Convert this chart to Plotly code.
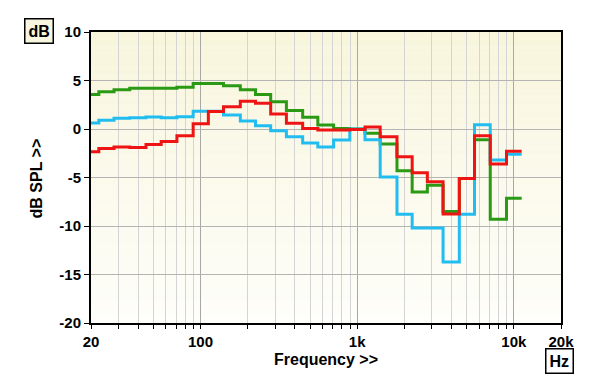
import plotly.graph_objects as go

# 1/3-octave band centre frequencies (Hz)
bands = [20, 25, 31.5, 40, 50, 63, 80, 100, 125, 160, 200, 250, 315, 400, 500,
         630, 800, 1000, 1250, 1600, 2000, 2500, 3150, 4000, 5000, 6300, 8000, 10000]

green = [3.55, 3.85, 4.05, 4.2, 4.2, 4.2, 4.3, 4.7, 4.7, 4.45, 4.05, 3.55, 2.8, 1.9, 1.2,
         0.4, 0.05, 0.0, -0.45, -1.55, -4.3, -6.5, -5.8, -8.5, -5.1, -1.1, -9.3, -7.15]
cyan = [0.62, 0.9, 1.1, 1.17, 1.25, 1.15, 1.27, 1.82, 1.82, 1.45, 0.82, 0.34, -0.18, -0.8, -1.45,
        -1.85, -1.14, 0.0, -1.1, -4.95, -8.8, -10.2, -10.2, -13.7, -8.8, 0.45, -3.2, -2.6]
red = [-2.35, -2.0, -1.85, -1.9, -1.6, -1.3, -0.7, 0.55, 1.8, 2.3, 2.85, 2.65, 1.55, 0.58, 0.05,
       -0.1, -0.1, -0.05, 0.2, -0.8, -2.85, -4.5, -5.45, -8.75, -5.1, -0.7, -3.6, -2.3]

yticks = [-20, -15, -10, -5, 0, 5, 10]
ytick_text = ["-20", "-15", "-10", "-5", "0", "5", "10"]
xmajor = [20, 100, 1000, 10000, 20000]
xmajor_text = ["20", "100", "1k", "10k", "20k"]
xminor = [30, 40, 50, 60, 70, 80, 90, 200, 300, 400, 500, 600, 700, 800, 900,
          2000, 3000, 4000, 5000, 6000, 7000, 8000, 9000]

# step x: band lower edges (first clipped to 20 Hz) + last upper edge
half = 10 ** 0.05
xs = [20] + [b * half for b in bands]

def stepy(v):
    return v + [v[-1]]

fig = go.Figure()
for vals, col in [(green, "#2a9a14"), (cyan, "#22bdf0"), (red, "#ee1414")]:
    fig.add_trace(go.Scatter(x=xs, y=stepy(vals), mode="lines", line_shape="hv",
                             line=dict(color=col, width=3), showlegend=False,
                             hoverinfo="skip"))

# background gradient
shapes = []
N = 40
top = (248, 245, 220)
bot = (254, 254, 250)
for i in range(N):
    t = (i + 0.5) / N
    c = tuple(int(round(bot[j] + (top[j] - bot[j]) * t)) for j in range(3))
    shapes.append(dict(type="rect", xref="paper", yref="paper", x0=0, x1=1,
                       y0=i / N, y1=(i + 1) / N, fillcolor="rgb(%d,%d,%d)" % c,
                       line=dict(width=0), layer="below"))

bold = dict(family="Liberation Sans, Arial, sans-serif", size=15, color="black", weight="bold")
title_font = dict(family="Liberation Sans, Arial, sans-serif", size=16, color="black", weight="bold")
boxfont = dict(family="Liberation Sans, Arial, sans-serif", size=16, color="black", weight="bold")

fig.update_layout(
    width=592, height=379,
    margin=dict(l=83, r=39, t=24, b=64),
    paper_bgcolor="white", plot_bgcolor="rgba(0,0,0,0)",
    shapes=shapes,
    font=bold,
    xaxis=dict(type="log", range=[1.30103, 4.30103], tickvals=xmajor, ticktext=xmajor_text,
               ticks="outside", ticklen=4, tickcolor="black", tickwidth=1,
               showgrid=True, gridcolor="#a8a8a8", gridwidth=1,
               showline=True, linecolor="black", linewidth=2, mirror=True,
               tickfont=bold, zeroline=False,
               minor=dict(tickvals=xminor, ticks="outside", ticklen=4, tickcolor="black",
                          showgrid=True, gridcolor="#d4d4d4", gridwidth=1)),
    yaxis=dict(range=[-20, 10], tickvals=yticks, ticktext=ytick_text, ticks="outside", ticklen=5,
               tickcolor="black", tickwidth=1, showgrid=True, gridcolor="#b4b4b4",
               gridwidth=1, showline=True, linecolor="black", linewidth=2, mirror=True,
               tickfont=bold, zeroline=False),
    annotations=[
        dict(text="dB", xref="paper", yref="paper", x=-0.1117, y=1.0034, showarrow=False,
             xanchor="center", yanchor="middle", font=boxfont,
             bgcolor="#f8f5e0", bordercolor="black", borderwidth=1.5, borderpad=3),
        dict(text="Hz", xref="paper", yref="paper", x=0.9968, y=-0.1289, showarrow=False,
             xanchor="center", yanchor="middle", font=boxfont,
             bgcolor="white", bordercolor="black", borderwidth=1.5, borderpad=3),
        dict(text="Frequency >>", xref="paper", yref="paper", x=0.5, y=-0.127, showarrow=False,
             xanchor="center", yanchor="middle", font=title_font),
        dict(text="dB SPL >>", xref="paper", yref="paper", x=-0.115, y=0.4966, showarrow=False,
             xanchor="center", yanchor="middle", textangle=-90, font=title_font),
    ],
)

fig.write_html("out.html")
